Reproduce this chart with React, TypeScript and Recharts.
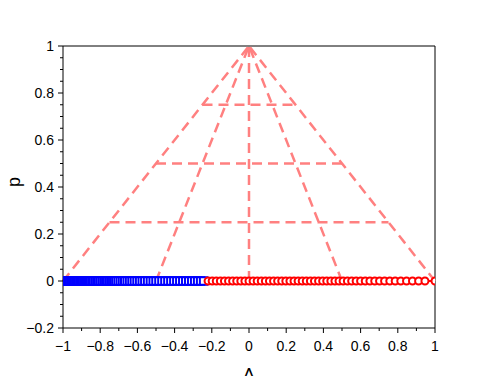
import React from "react";
import { Label, ReferenceLine, Scatter, ScatterChart, XAxis, YAxis } from "recharts";

// Δ positions of the two marker runs (all sit on p = 0)
const BLUE_DELTA = [
  -1.0, -0.993, -0.986, -0.979, -0.972, -0.965, -0.958, -0.951, -0.944, -0.937, -0.93, -0.923, -0.916,
  -0.909, -0.902, -0.895, -0.888, -0.881, -0.874, -0.867, -0.86, -0.852, -0.844, -0.836, -0.827, -0.818,
  -0.809, -0.8, -0.79, -0.78, -0.77, -0.76, -0.749, -0.738, -0.727, -0.716, -0.704, -0.692, -0.68, -0.668,
  -0.655, -0.642, -0.629, -0.616, -0.602, -0.588, -0.574, -0.56, -0.545, -0.53, -0.515, -0.5, -0.484,
  -0.468, -0.452, -0.436, -0.42, -0.404, -0.388, -0.372, -0.356, -0.34, -0.324, -0.308, -0.292, -0.276,
  -0.26, -0.244,
];
const RED_DELTA = [
  -0.22, -0.198, -0.176, -0.154, -0.132, -0.11, -0.088, -0.066, -0.044, -0.022, 0.0, 0.022, 0.044, 0.066,
  0.088, 0.11, 0.132, 0.154, 0.176, 0.198, 0.22, 0.242, 0.264, 0.286, 0.308, 0.33, 0.352, 0.374, 0.396,
  0.418, 0.44, 0.462, 0.484, 0.506, 0.529, 0.552, 0.576, 0.6, 0.625, 0.65, 0.676, 0.702, 0.729, 0.757,
  0.786, 0.816, 0.847, 0.879, 0.912, 0.946, 1.0,
];
const BASE_P = 0;

// dashed guide segments: [Δ1, p1, Δ2, p2]
const GUIDES = [
  [-1, 0, 0, 1],
  [1, 0, 0, 1],
  [-0.5, 0, 0, 1],
  [0.5, 0, 0, 1],
  [0, 0, 0, 1],
  [-0.75, 0.25, 0.75, 0.25],
  [-0.5, 0.5, 0.5, 0.5],
  [-0.25, 0.75, 0.25, 0.75],
];

const X_TICKS = [-1, -0.9, -0.8, -0.7, -0.6, -0.5, -0.4, -0.3, -0.2, -0.1, 0, 0.1, 0.2, 0.3, 0.4, 0.5, 0.6, 0.7, 0.8, 0.9, 1];
const Y_TICKS = [
  -0.2, -0.15, -0.1, -0.05, 0, 0.05, 0.1, 0.15, 0.2, 0.25, 0.3, 0.35, 0.4, 0.45, 0.5, 0.55, 0.6, 0.65, 0.7,
  0.75, 0.8, 0.85, 0.9, 0.95, 1,
];

const FONT = "'Liberation Sans', Arial, Helvetica, sans-serif";
const GUIDE_COLOR = "#ff8080";

const blueData = BLUE_DELTA.map((x) => ({ x, y: BASE_P }));
const redData = RED_DELTA.map((x) => ({ x, y: BASE_P }));

const isMajor = (v: number) => Math.abs(v * 5 - Math.round(v * 5)) < 1e-6;
const fmt = (v: number) => (Math.abs(v) < 1e-9 ? "0" : String(Number(v.toFixed(1))).replace("-", "\u2212"));

function XTick({ x, y, payload }: any) {
  const major = isMajor(payload.value);
  return (
    <g>
      <line x1={x} y1={y} x2={x} y2={y + (major ? 5 : 3)} stroke="#000" strokeWidth={1} />
      {major && (
        <text x={x} y={y + 23} textAnchor="middle" fontSize={14} fontFamily={FONT} fill="#000">
          {fmt(payload.value)}
        </text>
      )}
    </g>
  );
}

function YTick({ x, y, payload }: any) {
  const major = isMajor(payload.value);
  return (
    <g>
      <line x1={x} y1={y} x2={x - (major ? 5 : 3)} y2={y} stroke="#000" strokeWidth={1} />
      {major && (
        <text x={x - 9} y={y + 5} textAnchor="end" fontSize={14} fontFamily={FONT} fill="#000">
          {fmt(payload.value)}
        </text>
      )}
    </g>
  );
}

const Square = ({ cx, cy }: any) => (
  <rect x={cx - 3.75} y={cy - 3.75} width={7.5} height={7.5} fill="#fff" stroke="#0000ff" strokeWidth={2} />
);
const Circle = ({ cx, cy }: any) => <circle cx={cx} cy={cy} r={3.5} fill="#fff" stroke="#ff0000" strokeWidth={2} />;

export default function App() {
  return (
    <div style={{ position: "absolute", left: 0, top: 0, background: "#fff" }}>
      <ScatterChart width={498} height={376} margin={{ top: 46, right: 63, bottom: 8, left: 0 }}>
        <XAxis
          type="number"
          dataKey="x"
          domain={[-1, 1]}
          ticks={X_TICKS}
          interval={0}
          tickLine={false}
          tickSize={0}
          tickMargin={0}
          tick={<XTick />}
          axisLine={{ stroke: "#000" }}
          height={40}
          allowDataOverflow
        >
          <Label
            content={({ viewBox }: any) => (
              <text
                x={viewBox.x + viewBox.width / 2}
                y={viewBox.y + 52}
                textAnchor="middle"
                fontSize={17}
                fontFamily={FONT}
                fill="#000"
              >
                Δ
              </text>
            )}
          />
        </XAxis>
        <YAxis
          type="number"
          dataKey="y"
          domain={[-0.2, 1]}
          ticks={Y_TICKS}
          interval={0}
          tickLine={false}
          tickSize={0}
          tickMargin={0}
          tick={<YTick />}
          axisLine={{ stroke: "#000" }}
          width={63}
          allowDataOverflow
        >
          <Label
            content={({ viewBox }: any) => {
              const lx = viewBox.x + 20;
              const ly = viewBox.y + viewBox.height / 2 - 5;
              return (
                <text
                  x={lx}
                  y={ly}
                  transform={`rotate(-90 ${lx} ${ly})`}
                  textAnchor="middle"
                  fontSize={18}
                  fontFamily={FONT}
                  fill="#000"
                >
                  p
                </text>
              );
            }}
          />
        </YAxis>
        <ReferenceLine y={1} stroke="#000" strokeWidth={1} ifOverflow="visible" />
        <ReferenceLine x={1} stroke="#000" strokeWidth={1} ifOverflow="visible" />
        {GUIDES.map(([x1, y1, x2, y2], i) => (
          <ReferenceLine
            key={i}
            segment={[
              { x: x1, y: y1 },
              { x: x2, y: y2 },
            ]}
            stroke={GUIDE_COLOR}
            strokeWidth={2.5}
            strokeDasharray="10 6"
            ifOverflow="visible"
          />
        ))}
        <Scatter
          data={blueData}
          line={{ stroke: "#0000ff", strokeWidth: 2 }}
          shape={Square}
          isAnimationActive={false}
        />
        <Scatter
          data={redData}
          line={{ stroke: "#ff0000", strokeWidth: 2 }}
          shape={Circle}
          isAnimationActive={false}
        />
      </ScatterChart>
    </div>
  );
}
